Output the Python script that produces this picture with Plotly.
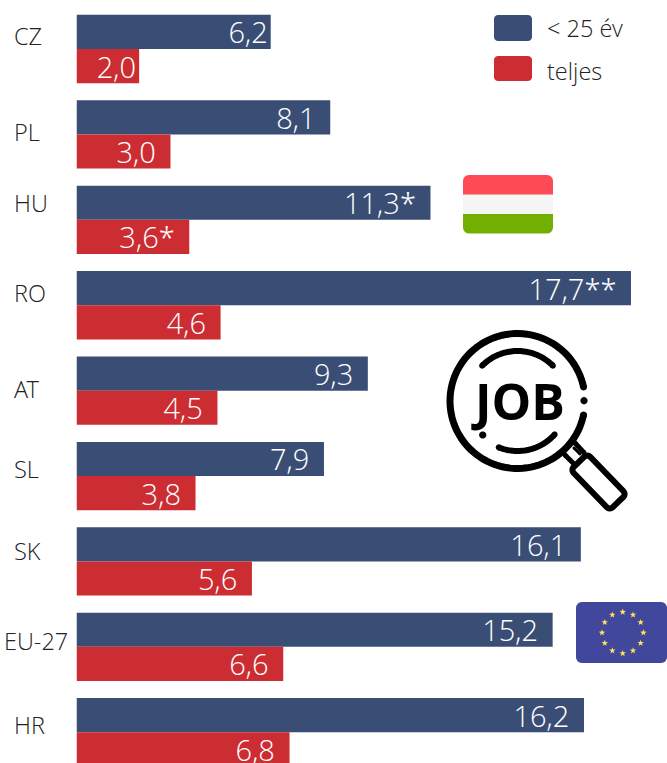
import math
import plotly.graph_objects as go

countries = ["CZ", "PL", "HU", "RO", "AT", "SL", "SK", "EU-27", "HR"]
youth = [6.2, 8.1, 11.3, 17.7, 9.3, 7.9, 16.1, 15.2, 16.2]
total = [2.0, 3.0, 3.6, 4.6, 4.5, 3.8, 5.6, 6.6, 6.8]
youth_text = ["6,2", "8,1", "11,3*", "17,7**", "9,3", "7,9", "16,1", "15,2", "16,2"]
total_text = ["2,0", "3,0", "3,6*", "4,6", "4,5", "3,8", "5,6", "6,6", "6,8"]
series_names = ["< 25 év", "teljes"]
label_shift = [13, 2, 17, 12, 2, 7, 10, 6, 7]
label_x = [15, 15, 15, 15, 15, 15, 15, 5, 15]
label_pad = [0, 2, 2, 2, 2, 2, 2, 2, 2]

W, H = 667, 763
FONT = "Open Sans Light, Open Sans"
BLUE, RED = "#3A4E75", "#CB2D32"
INK = "#222222"


def px(x, y):
    return f"{x / W:.5f} {1 - y / H:.5f}"


def poly(points, close=False):
    d = "M" + " L".join(px(x, y) for x, y in points)
    return d + (" Z" if close else "")


def rrect_pts(x0, y0, x1, y1, r, corners=(1, 1, 1, 1)):
    pts = []
    spec = [(x1, y0, -90, corners[1]), (x1, y1, 0, corners[2]),
            (x0, y1, 90, corners[3]), (x0, y0, 180, corners[0])]
    for cx, cy, a0, on in spec:
        if on:
            ccx = cx - r if cx == x1 else cx + r
            ccy = cy + r if cy == y0 else cy - r
            for i in range(7):
                a = math.radians(a0 + 15 * i)
                pts.append((ccx + r * math.cos(a), ccy + r * math.sin(a)))
        else:
            pts.append((cx, cy))
    return pts


def arc(cx, cy, r, a0, a1, n=48):
    return [(cx + r * math.cos(math.radians(a0 + (a1 - a0) * i / n)),
             cy + r * math.sin(math.radians(a0 + (a1 - a0) * i / n))) for i in range(n + 1)]


shapes = []


def fill(points, color):
    shapes.append(dict(type="path", xref="paper", yref="paper", path=poly(points, True),
                       fillcolor=color, line=dict(width=0), layer="above"))


def stroke(points, width, color="#000000", close=False):
    shapes.append(dict(type="path", xref="paper", yref="paper", path=poly(points, close),
                       fillcolor="rgba(0,0,0,0)", line=dict(width=width, color=color), layer="above"))
    if not close:
        for p in (points[0], points[-1]):
            dot(p, width / 2, color)


def dot(c, r, color="#000000"):
    fill(arc(c[0], c[1], r, 0, 360, 24), color)


# legend
fill(rrect_pts(494, 15, 532, 41, 4), BLUE)
fill(rrect_pts(494, 56, 532, 81, 4), RED)

# Hungarian flag
fill(rrect_pts(463, 175, 553, 195, 6, (1, 1, 0, 0)), "#FF4B55")
fill([(463, 194.5), (553, 194.5), (553, 214), (463, 214)], "#F5F5F5")
fill(rrect_pts(463, 214, 553, 233.5, 6, (0, 0, 1, 1)), "#73AF00")

# EU flag
fill(rrect_pts(576, 602, 667, 663, 6), "#41479B")
for k in range(12):
    a = math.radians(30 * k)
    cx, cy = 622.7 + 20.7 * math.cos(a), 632.7 + 20.7 * math.sin(a)
    star = []
    for j in range(10):
        r = 3.4 if j % 2 == 0 else 1.4
        t = math.radians(-90 + 36 * j)
        star.append((cx + r * math.cos(t), cy + r * math.sin(t)))
    fill(star, "#FFE15A")

# magnifier icon
C = (517.5, 401)
stroke(arc(C[0], C[1], 67.5, 12, 348, 96), 7)
dot((584, 400.7), 3.6)
stroke(arc(C[0], C[1], 50, -135, -45), 6)
stroke(arc(C[0], C[1], 50, 42, 112), 6)
dot((482.7, 435), 3.6)
stroke([(565, 455), (575, 465)], 5)
stroke([(575, 443), (584, 452.7)], 5)
stroke([(574, 448), (580, 454)], 3)
handle = []
for x, y in rrect_pts(-28, -11.5, 28, 11.5, 4):
    t = math.radians(46)
    handle.append((598.5 + x * math.cos(t) - y * math.sin(t), 482 + x * math.sin(t) + y * math.cos(t)))
stroke(handle, 6, close=True)

annotations = [
    dict(text=c, xref="paper", x=x / W, xanchor="left", xshift=-3, yref="y", y=c, yshift=s, yanchor="middle",
         showarrow=False, font=dict(family=FONT, size=23.5, color=INK, weight=300))
    for c, s, x in zip(countries, label_shift, label_x)
]
annotations += [
    dict(text=series_names[0], xref="paper", yref="paper", x=546 / W, y=1 - 28 / H, xanchor="left", xshift=-1,
         yanchor="middle", showarrow=False, font=dict(family=FONT, size=23.5, color=INK, weight=300)),
    dict(text=series_names[1], xref="paper", yref="paper", x=546 / W, y=1 - 71 / H, xanchor="left", xshift=-1,
         yanchor="middle", showarrow=False, font=dict(family=FONT, size=23.5, color=INK, weight=300)),
    dict(text="JOB", xref="paper", yref="paper", x=517.5 / W, y=1 - 401 / H, xanchor="center", yanchor="middle",
         showarrow=False, font=dict(family="Open Sans", size=50, color="#000000", weight=700)),
]

fig = go.Figure()
for name, vals, labels, color in [(series_names[0], youth, youth_text, BLUE),
                                  (series_names[1], total, total_text, RED)]:
    fig.add_trace(go.Bar(y=countries, x=vals, name=name, orientation="h", marker=dict(color=color, line=dict(width=0)),
                         text=[t + "\u2009" * p for t, p in zip(labels, label_pad)],
                         textposition="inside", insidetextanchor="end",
                         textangle=0, constraintext="none",
                         insidetextfont=dict(family=FONT, size=29, color="#FFFFFF", weight=300)))

fig.update_layout(
    width=W, height=H, barmode="group", bargap=0.2, bargroupgap=0, showlegend=False,
    margin=dict(l=0, r=0, t=0, b=0), paper_bgcolor="white", plot_bgcolor="white",
    xaxis=dict(domain=[76.5 / W, 1], range=[0, 18.85], visible=False),
    yaxis=dict(type="category", categoryorder="array", categoryarray=countries,
               range=[8.36, -0.574], showticklabels=False, showline=False, showgrid=False, ticks=""),
    shapes=shapes, annotations=annotations,
)
fig.write_html("out.html", config=dict(displayModeBar=False),
               post_script="document.body.style.margin='0';document.documentElement.style.overflow='hidden';")
